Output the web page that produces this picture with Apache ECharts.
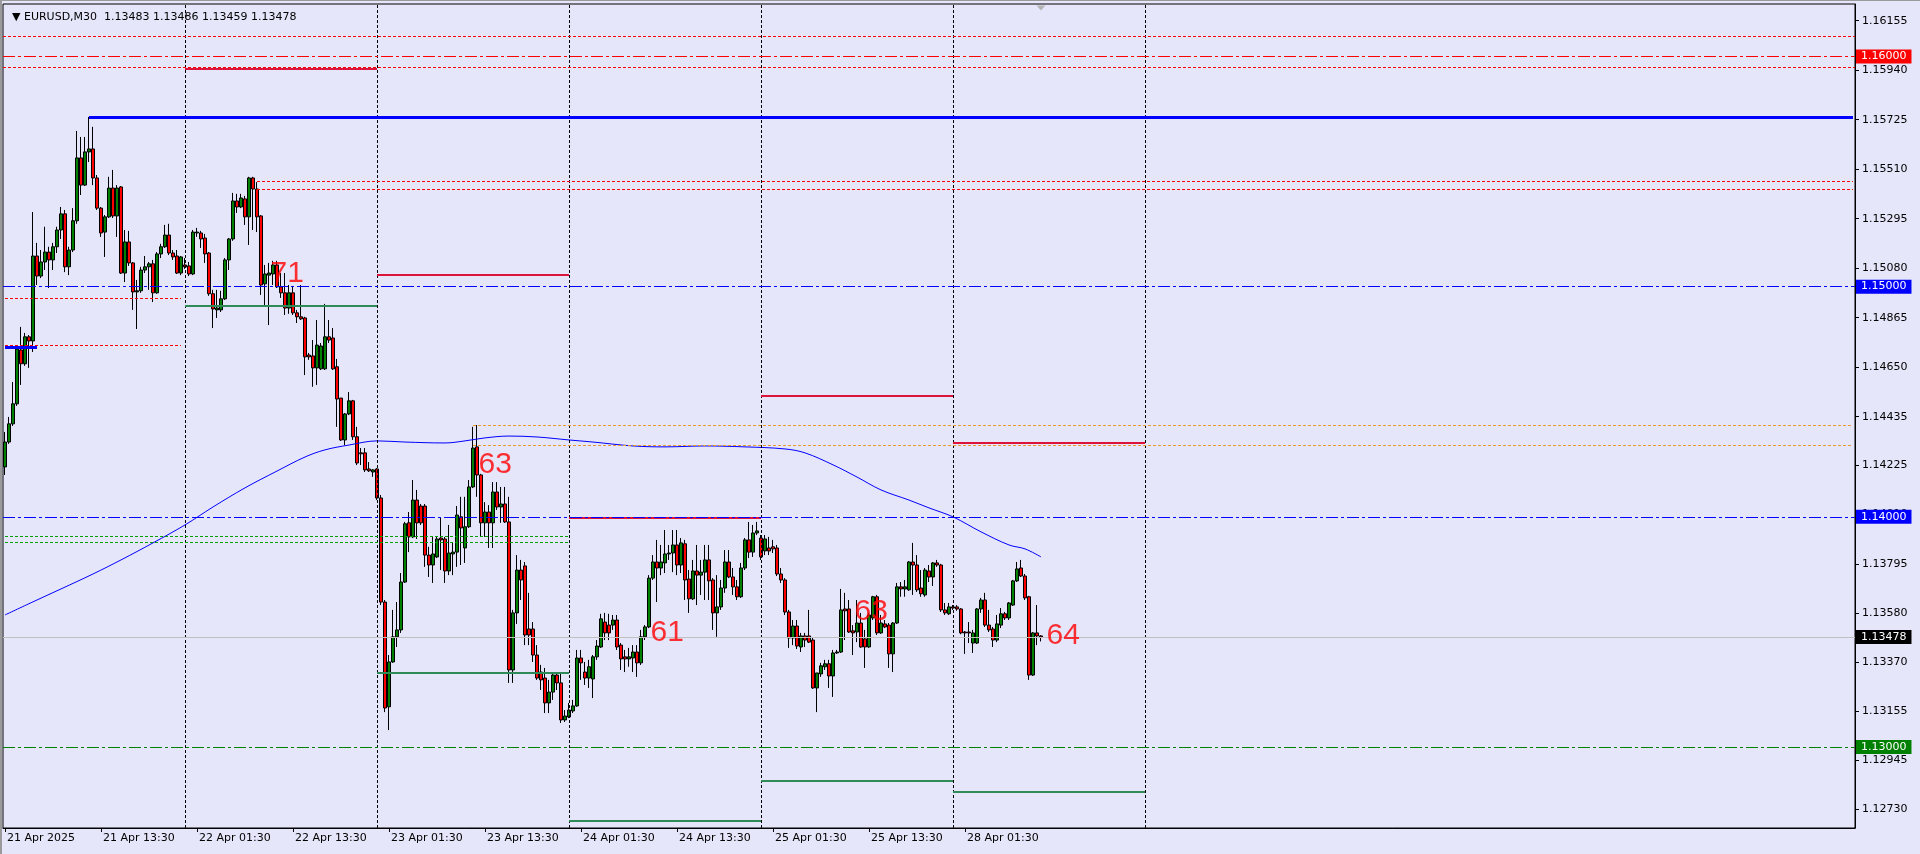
<!DOCTYPE html>
<html><head><meta charset="utf-8">
<script src="https://cdn.jsdelivr.net/npm/echarts@6/dist/echarts.min.js"></script>
<style>html,body{margin:0;padding:0;background:#e6e6fa;}#c{width:1920px;height:854px;}</style>
</head><body><div id="c"></div>
<script>
// ---------- DATA ----------
const headerText = '\u25BC EURUSD,M30  1.13483 1.13486 1.13459 1.13478';
const dayNames = ['21 Apr','22 Apr','23 Apr','24 Apr','25 Apr','28 Apr','29 Apr','30 Apr','01 May','02 May'];
const totalBars = 463;
const xTickBars = [0,24,48,72,96,120,144,168,192,216,240];
const xTickLabels = ['21 Apr 2025','21 Apr 13:30','22 Apr 01:30','22 Apr 13:30','23 Apr 01:30','23 Apr 13:30','24 Apr 01:30','24 Apr 13:30','25 Apr 01:30','25 Apr 13:30','28 Apr 01:30'];
const yTickLabels = ['1.16155','1.15940','1.15725','1.15510','1.15295','1.15080','1.14865','1.14650','1.14435','1.14225','1.14010','1.13795','1.13580','1.13370','1.13155','1.12945','1.12730'];
const yMin = 1.126487, yMax = 1.162275;
// [open, close, low, high]
const candles = [
[1.14217,1.14325,1.14182,1.14369],[1.14325,1.14404,1.14317,1.14434],[1.14404,1.14491,1.14395,1.14586],[1.14491,1.14729,1.14482,1.14746],
[1.14725,1.14665,1.14573,1.14825],[1.14665,1.14782,1.14656,1.14799],[1.14782,1.14764,1.14647,1.14790],[1.14764,1.15133,1.14716,1.15324],
[1.15133,1.15046,1.15007,1.15190],[1.15046,1.15107,1.15037,1.15159],[1.15107,1.15150,1.15072,1.15260],[1.15150,1.15116,1.14994,1.15173],
[1.15116,1.15173,1.15072,1.15190],[1.15173,1.15246,1.15146,1.15260],[1.15246,1.15316,1.15207,1.15346],[1.15316,1.15086,1.15063,1.15333],
[1.15086,1.15159,1.15050,1.15173],[1.15159,1.15286,1.15150,1.15341],[1.15286,1.15559,1.15273,1.15676],[1.15559,1.15441,1.15398,1.15650],
[1.15441,1.15585,1.15437,1.15650],[1.15585,1.15598,1.15541,1.15737],[1.15598,1.15472,1.15441,1.15694],[1.15472,1.15341,1.15333,1.15485],
[1.15341,1.15233,1.15216,1.15346],[1.15237,1.15303,1.15129,1.15311],[1.15303,1.15428,1.15298,1.15477],[1.15428,1.15307,1.15298,1.15507],
[1.15307,1.15428,1.15216,1.15441],[1.15433,1.15059,1.15055,1.15437],[1.15059,1.15194,1.15020,1.15246],[1.15194,1.15103,1.15090,1.15242],
[1.15103,1.14977,1.14899,1.15107],[1.14977,1.14982,1.14816,1.15029],[1.14982,1.15072,1.14973,1.15086],[1.15072,1.15086,1.15059,1.15133],
[1.15086,1.15099,1.14986,1.15107],[1.15099,1.14973,1.14933,1.15116],[1.14973,1.15142,1.14969,1.15150],[1.15142,1.15173,1.15124,1.15186],
[1.15173,1.15224,1.15168,1.15268],[1.15224,1.15146,1.15137,1.15273],[1.15146,1.15129,1.15116,1.15159],[1.15133,1.15059,1.15055,1.15159],
[1.15059,1.15129,1.15050,1.15133],[1.15094,1.15086,1.15077,1.15124],[1.15090,1.15055,1.15046,1.15107],[1.15055,1.15237,1.15050,1.15246],
[1.15233,1.15237,1.15216,1.15255],[1.15233,1.15207,1.15168,1.15242],[1.15211,1.15142,1.15103,1.15229],[1.15146,1.14969,1.14960,1.15150],
[1.14969,1.14903,1.14820,1.14986],[1.14899,1.14907,1.14864,1.14986],[1.14899,1.14947,1.14890,1.14982],[1.14947,1.15116,1.14942,1.15124],
[1.15116,1.15207,1.15072,1.15211],[1.15207,1.15372,1.15199,1.15407],[1.15372,1.15346,1.15320,1.15403],[1.15346,1.15385,1.15341,1.15403],
[1.15381,1.15303,1.15268,1.15394],[1.15303,1.15472,1.15181,1.15477],[1.15472,1.15424,1.15246,1.15477],[1.15424,1.15303,1.15237,1.15454],
[1.15307,1.15007,1.14964,1.15311],[1.15012,1.15055,1.14920,1.15094],[1.15050,1.15059,1.14833,1.15103],[1.15055,1.15094,1.15007,1.15112],
[1.15094,1.14999,1.14994,1.15112],[1.14999,1.14973,1.14951,1.15059],[1.14973,1.14907,1.14877,1.15059],[1.14907,1.14973,1.14882,1.15007],
[1.14973,1.14886,1.14877,1.15003],[1.14886,1.14869,1.14842,1.14899],[1.14869,1.14860,1.14855,1.15007],[1.14864,1.14695,1.14616,1.14869],
[1.14703,1.14695,1.14682,1.14712],[1.14699,1.14647,1.14565,1.14768],[1.14647,1.14746,1.14573,1.14855],[1.14643,1.14742,1.14638,1.14755],
[1.14643,1.14782,1.14638,1.14925],[1.14782,1.14768,1.14755,1.14855],[1.14777,1.14643,1.14638,1.14820],[1.14652,1.14512,1.14391,1.14686],
[1.14516,1.14334,1.14330,1.14516],[1.14334,1.14447,1.14312,1.14451],[1.14447,1.14504,1.14442,1.14542],[1.14504,1.14348,1.14334,1.14508],
[1.14348,1.14234,1.14225,1.14391],[1.14278,1.14274,1.14225,1.14299],[1.14278,1.14204,1.14195,1.14299],[1.14208,1.14200,1.14195,1.14238],
[1.14195,1.14204,1.14174,1.14208],[1.14208,1.14082,1.14073,1.14212],[1.14082,1.13630,1.13617,1.14095],[1.13630,1.13170,1.13152,1.13639],
[1.13175,1.13370,1.13074,1.13400],[1.13370,1.13479,1.13366,1.13596],[1.13479,1.13509,1.13435,1.13630],[1.13509,1.13717,1.13496,1.13756],
[1.13717,1.13970,1.13713,1.13978],[1.13974,1.13913,1.13847,1.14021],[1.13913,1.14073,1.13908,1.14160],[1.14073,1.13974,1.13904,1.14117],
[1.14047,1.13974,1.13965,1.14056],[1.14047,1.13834,1.13783,1.14056],[1.13834,1.13791,1.13739,1.13870],[1.13791,1.13839,1.13713,1.13913],
[1.13826,1.13904,1.13821,1.13913],[1.13908,1.13900,1.13769,1.13995],[1.13904,1.13765,1.13713,1.13913],[1.13765,1.13843,1.13747,1.13965],
[1.13839,1.13847,1.13747,1.13887],[1.13847,1.14008,1.13783,1.14047],[1.14000,1.13952,1.13791,1.14087],[1.13865,1.13957,1.13800,1.14087],
[1.13957,1.14130,1.13952,1.14160],[1.14130,1.14299,1.14125,1.14391],[1.14304,1.14182,1.14087,1.14399],[1.14182,1.13974,1.13913,1.14187],
[1.13974,1.14021,1.13913,1.14064],[1.14021,1.13974,1.13865,1.14051],[1.13974,1.14108,1.13865,1.14151],[1.14108,1.14043,1.14030,1.14151],
[1.14043,1.14056,1.13974,1.14130],[1.14056,1.13978,1.13974,1.14130],[1.13978,1.13335,1.13279,1.14087],[1.13335,1.13583,1.13279,1.13596],
[1.13583,1.13769,1.13535,1.13834],[1.13769,1.13726,1.13639,1.13813],[1.13787,1.13487,1.13443,1.13804],[1.13513,1.13487,1.13443,1.13670],
[1.13513,1.13400,1.13370,1.13543],[1.13400,1.13300,1.13292,1.13443],[1.13326,1.13292,1.13248,1.13357],[1.13300,1.13192,1.13148,1.13344],
[1.13192,1.13239,1.13148,1.13292],[1.13239,1.13313,1.13205,1.13322],[1.13313,1.13279,1.13248,1.13322],[1.13279,1.13118,1.13105,1.13322],
[1.13118,1.13135,1.13109,1.13161],[1.13131,1.13161,1.13126,1.13192],[1.13157,1.13179,1.13148,1.13205],[1.13179,1.13387,1.13175,1.13422],
[1.13387,1.13366,1.13292,1.13422],[1.13326,1.13300,1.13270,1.13370],[1.13300,1.13349,1.13257,1.13379],[1.13296,1.13392,1.13213,1.13400],
[1.13392,1.13439,1.13379,1.13465],[1.13435,1.13557,1.13431,1.13579],[1.13543,1.13496,1.13465,1.13583],[1.13530,1.13496,1.13465,1.13579],
[1.13530,1.13552,1.13509,1.13574],[1.13552,1.13435,1.13422,1.13574],[1.13443,1.13383,1.13335,1.13452],[1.13392,1.13383,1.13326,1.13422],
[1.13383,1.13392,1.13349,1.13431],[1.13387,1.13413,1.13326,1.13443],[1.13413,1.13366,1.13305,1.13443],[1.13366,1.13479,1.13357,1.13509],
[1.13479,1.13522,1.13465,1.13530],[1.13522,1.13734,1.13517,1.13747],[1.13734,1.13804,1.13726,1.13834],[1.13804,1.13778,1.13630,1.13900],
[1.13778,1.13804,1.13747,1.13878],[1.13800,1.13839,1.13756,1.13943],[1.13839,1.13843,1.13813,1.13878],[1.13843,1.13878,1.13760,1.13943],
[1.13878,1.13791,1.13747,1.13943],[1.13791,1.13887,1.13756,1.13908],[1.13883,1.13726,1.13639,1.13900],[1.13730,1.13644,1.13583,1.13769],
[1.13644,1.13765,1.13639,1.13813],[1.13765,1.13747,1.13617,1.13878],[1.13747,1.13760,1.13661,1.13813],[1.13760,1.13813,1.13639,1.13878],
[1.13813,1.13722,1.13639,1.13878],[1.13726,1.13583,1.13509,1.13734],[1.13583,1.13609,1.13479,1.13747],[1.13609,1.13691,1.13596,1.13726],
[1.13691,1.13804,1.13670,1.13856],[1.13804,1.13739,1.13734,1.13856],[1.13739,1.13696,1.13661,1.13778],[1.13696,1.13653,1.13639,1.13726],
[1.13653,1.13778,1.13648,1.13800],[1.13778,1.13900,1.13769,1.13908],[1.13900,1.13847,1.13821,1.13978],[1.13847,1.13930,1.13826,1.13965],
[1.13930,1.13939,1.13921,1.13978],[1.13908,1.13826,1.13813,1.13921],[1.13852,1.13904,1.13834,1.13921],[1.13865,1.13852,1.13834,1.13913],
[1.13870,1.13861,1.13843,1.13900],[1.13865,1.13752,1.13743,1.13878],[1.13752,1.13726,1.13713,1.13778],[1.13726,1.13587,1.13574,1.13734],
[1.13587,1.13474,1.13431,1.13596],[1.13474,1.13526,1.13443,1.13552],[1.13526,1.13439,1.13426,1.13552],[1.13435,1.13483,1.13413,1.13496],
[1.13483,1.13465,1.13435,1.13496],[1.13483,1.13456,1.13452,1.13596],[1.13465,1.13257,1.13253,1.13474],[1.13257,1.13322,1.13152,1.13322],
[1.13318,1.13353,1.13305,1.13366],[1.13349,1.13362,1.13335,1.13379],[1.13362,1.13309,1.13257,1.13379],[1.13309,1.13409,1.13218,1.13422],
[1.13409,1.13413,1.13405,1.13422],[1.13413,1.13596,1.13409,1.13687],[1.13600,1.13592,1.13465,1.13670],[1.13600,1.13500,1.13496,1.13639],
[1.13505,1.13496,1.13400,1.13530],[1.13500,1.13539,1.13456,1.13639],[1.13539,1.13435,1.13431,1.13583],[1.13470,1.13435,1.13344,1.13509],
[1.13435,1.13574,1.13431,1.13583],[1.13561,1.13653,1.13552,1.13657],[1.13653,1.13496,1.13487,1.13661],[1.13496,1.13539,1.13492,1.13574],
[1.13535,1.13522,1.13517,1.13552],[1.13530,1.13405,1.13344,1.13539],[1.13405,1.13539,1.13326,1.13543],[1.13539,1.13696,1.13535,1.13713],
[1.13696,1.13687,1.13653,1.13717],[1.13687,1.13696,1.13653,1.13726],[1.13683,1.13804,1.13679,1.13808],[1.13804,1.13791,1.13661,1.13887],
[1.13791,1.13683,1.13674,1.13834],[1.13691,1.13666,1.13653,1.13769],[1.13661,1.13769,1.13653,1.13778],[1.13765,1.13739,1.13717,1.13791],
[1.13739,1.13800,1.13700,1.13804],[1.13800,1.13791,1.13783,1.13813],[1.13791,1.13596,1.13587,1.13796],[1.13596,1.13583,1.13574,1.13626],
[1.13579,1.13609,1.13574,1.13626],[1.13609,1.13604,1.13596,1.13617],[1.13609,1.13600,1.13592,1.13617],[1.13600,1.13496,1.13490,1.13604],
[1.13500,1.13496,1.13405,1.13504],[1.13500,1.13496,1.13452,1.13543],[1.13452,1.13496,1.13409,1.13509],[1.13452,1.13600,1.13448,1.13604],
[1.13600,1.13639,1.13583,1.13648],[1.13639,1.13530,1.13522,1.13670],[1.13530,1.13509,1.13500,1.13596],[1.13513,1.13465,1.13435,1.13522],
[1.13465,1.13535,1.13456,1.13574],[1.13530,1.13579,1.13517,1.13604],[1.13579,1.13561,1.13552,1.13587],[1.13561,1.13626,1.13552,1.13630],
[1.13617,1.13722,1.13613,1.13726],[1.13722,1.13774,1.13717,1.13804],[1.13778,1.13743,1.13739,1.13813],[1.13743,1.13648,1.13639,1.13752],
[1.13653,1.13313,1.13292,1.13657],[1.13313,1.13496,1.13309,1.13500],[1.13496,1.13483,1.13443,1.13617],[1.13483,1.13478,1.13459,1.13486]
];
const maBars = [0,7,14,22,29,37,45,52,60,68,75,80,86,93,100,110,115,120,126,133,141,147,157,165,175,185,195,200,207,213,219,226,231,237,244,251,255,259];
const maValues = [1.13574,1.13631,1.13687,1.13752,1.13813,1.13887,1.13965,1.14043,1.14126,1.14199,1.14260,1.14291,1.14312,1.14330,1.14325,1.14321,1.14330,1.14343,1.14351,1.14347,1.14334,1.14325,1.14308,1.14304,1.14308,1.14304,1.14295,1.14278,1.14226,1.14173,1.14117,1.14073,1.14039,1.14000,1.13935,1.13878,1.13861,1.13826];
const sepBars = [45,93,141,189,237,285];
const fullLinePrices = [1.16087,1.16000,1.15953,1.15000,1.14000,1.13478,1.13000];
const segStartBars = [45,21,63,63,93,0,45,0,0,117,117,141,189,237,0,0,93,141,189,237];
const segEndBars   = [93,462,462,462,141,44,93,44,8,462,462,189,237,285,141,141,141,189,237,285];
const segPrices    = [1.15948,1.15736,1.15458,1.15424,1.15051,1.14949,1.14916,1.14747,1.14738,1.14399,1.14312,1.13998,1.14527,1.14320,1.13917,1.13890,1.13323,1.12682,1.12853,1.12805];
const noteBars = [66,118,161,212,260];
const notePrices = [1.15057,1.14228,1.13496,1.13587,1.13483];
const noteTexts = ['71','63','61','63','64'];

// ---------- STYLES ----------
const DOT = [3,2], DASHDOT = [12,3,3,3];
const fullLineStyles = [
 {color:'#ff0000',type:DOT,width:1,bg:null},
 {color:'#ff0000',type:DASHDOT,width:1,bg:'#ff0000'},
 {color:'#ff0000',type:DOT,width:1,bg:null},
 {color:'#0000ff',type:DASHDOT,width:1,bg:'#0000ff'},
 {color:'#0000ff',type:DASHDOT,width:1,bg:'#0000ff'},
 {color:'#c0c0c0',type:'solid',width:1,bg:'#000000'},
 {color:'#008000',type:DASHDOT,width:1,bg:'#008000'}
];
const CR={color:'#dc143c',type:'solid',width:2}, SG={color:'#2e8b57',type:'solid',width:2},
      BL={color:'#0000ff',type:'solid',width:3}, RD={color:'#ff0000',type:DOT,width:1},
      OR={color:'#e89a2c',type:DOT,width:1}, GD={color:'#00a000',type:DOT,width:1};
const segStyles = [CR,BL,RD,RD,CR,RD,SG,RD,BL,OR,OR,CR,CR,CR,GD,GD,SG,SG,SG,SG];

// ---------- BUILD ----------
const categories = [];
for (let i=0;i<totalBars;i++){
  const slot=i+3, d=Math.floor(slot/48), s=slot%48;
  categories.push(dayNames[d]+' '+String(Math.floor(s/2)).padStart(2,'0')+':'+(s%2?'30':'00'));
}
const tickMap = {}; xTickBars.forEach((b,i)=>tickMap[b]=xTickLabels[i]);
const isTick = (i)=> tickMap[i]!==undefined;
const yTickValues = yTickLabels.map(Number);
const FONT='DejaVu Sans';

const ml = [];
sepBars.forEach(b=>ml.push({xAxis:categories[b], lineStyle:{color:'#000',type:DOT,width:1}, label:{show:false}}));
segPrices.forEach((p,i)=>{
  const st=segStyles[i];
  ml.push([{coord:[categories[segStartBars[i]],p], lineStyle:{color:st.color,type:st.type,width:st.width}, label:{show:false}},
           {coord:[categories[segEndBars[i]],p]}]);
});
fullLinePrices.forEach((p,i)=>{
  const st=fullLineStyles[i];
  ml.push({yAxis:p, lineStyle:{color:st.color,type:st.type,width:st.width},
    label: st.bg ? {show:true,position:'end',distance:1,formatter:p.toFixed(5),backgroundColor:st.bg,color:'#ffffff',
      padding:[1,5,0,5],fontSize:11,fontFamily:FONT,lineHeight:13} : {show:false}});
});

const chart = echarts.init(document.getElementById('c'), null, {renderer:'canvas'});
chart.setOption({
  animation:false,
  backgroundColor:'#e6e6fa',
  title:{text:headerText,left:7,top:7,textStyle:{fontSize:11,fontWeight:'normal',color:'#000',fontFamily:FONT}},
  graphic:[
    {type:'rect',shape:{x:0,y:0,width:1920,height:1},style:{fill:'#9a9a9a'},silent:true},
    {type:'rect',shape:{x:0,y:0,width:2,height:854},style:{fill:'#9a9a9a'},silent:true}
  ],
  grid:{left:3,right:65,top:4,bottom:26,show:true,borderColor:'#000',borderWidth:1,backgroundColor:'transparent'},
  xAxis:{type:'category',data:categories,boundaryGap:true,
    axisLine:{lineStyle:{color:'#000',width:1}},
    axisTick:{show:true,alignWithLabel:true,interval:isTick,length:4,lineStyle:{color:'#000'}},
    axisLabel:{interval:isTick,formatter:(v,i)=>tickMap[i]||'',align:'left',margin:5,color:'#000',fontSize:11,fontFamily:FONT,padding:[0,0,0,2]},
    splitLine:{show:false}},
  yAxis:{type:'value',position:'right',min:yMin,max:yMax,scale:true,
    axisLine:{show:true,lineStyle:{color:'#000',width:1}},
    axisTick:{show:true,length:4,customValues:yTickValues,lineStyle:{color:'#000'}},
    axisLabel:{customValues:yTickValues,formatter:(v)=>{const k=yTickValues.findIndex(t=>Math.abs(t-v)<1e-7);return k>=0?yTickLabels[k]:'';},
      margin:7,color:'#000',fontSize:11,fontFamily:FONT},
    splitLine:{show:false}},
  series:[
    {type:'candlestick',data:candles,barWidth:3,
      itemStyle:{color:'#008000',color0:'#ff0000',borderColor:'#000',borderColor0:'#000',borderColorDoji:'#000',borderWidth:1},
      markLine:{silent:true,symbol:['none','none'],precision:6,animation:false,data:ml},
      markPoint:{silent:true,symbol:'triangle',symbolRotate:180,symbolSize:[9,5],symbolOffset:[0,4],itemStyle:{color:'#b4b4b4'},label:{show:false},
        data:[{coord:[categories[259],yMax]}]}
    },
    {type:'line',data:maBars.map((b,i)=>[categories[b],maValues[i]]),smooth:0.35,symbol:'none',
      lineStyle:{color:'#0000ff',width:1},z:3},
    {type:'scatter',data:noteBars.map((b,i)=>[categories[b],notePrices[i],noteTexts[i]]),symbolSize:1,
      itemStyle:{color:'rgba(0,0,0,0)'},z:5,
      label:{show:true,position:'right',distance:1,formatter:p=>p.data[2],color:'#ff0000',fontSize:30,fontFamily:'Liberation Sans'}}
  ]
});
</script></body></html>
